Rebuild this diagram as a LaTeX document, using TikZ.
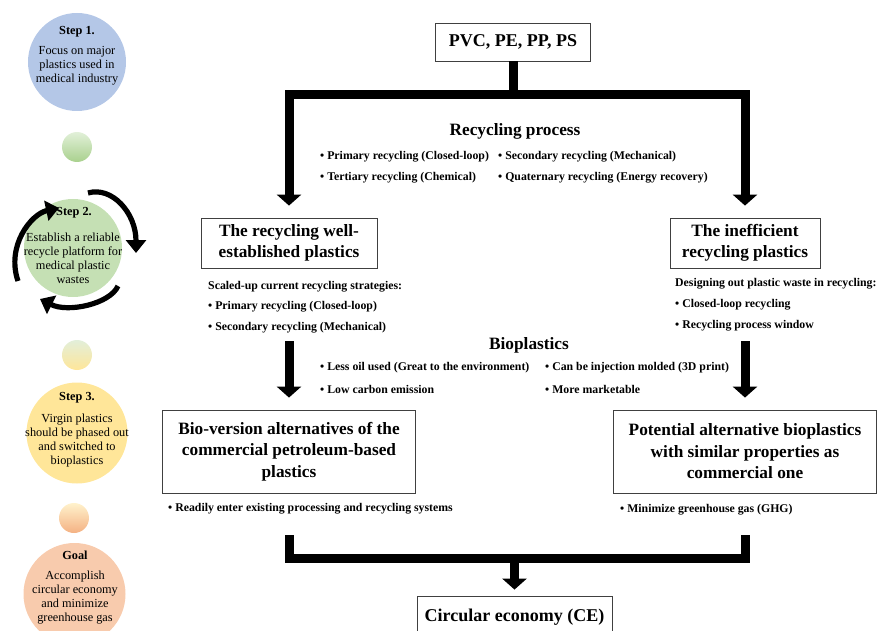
\documentclass[tikz,border=0pt]{standalone}
\usepackage{fontspec}
\setmainfont{Liberation Serif}
\usetikzlibrary{positioning,arrows.meta}
\definecolor{stepblue}{HTML}{B4C7E7}
\definecolor{stepgreen}{HTML}{C5E0B4}
\definecolor{stepyellow}{HTML}{FFE699}
\definecolor{steporange}{HTML}{F8CBAD}
\definecolor{beadgreentop}{HTML}{E2F0D9}
\definecolor{beadgreenbot}{HTML}{A9D18E}
\definecolor{beadyellowtop}{HTML}{E2EFDA}
\definecolor{beadyellowbot}{HTML}{FFE699}
\definecolor{beadorangetop}{HTML}{FFF2CC}
\definecolor{beadorangebot}{HTML}{F4B183}

\begin{document}
\begin{tikzpicture}[
    x=1pt, y=-1pt,
    font=\fontsize{12.3}{14}\selectfont,
    stepc/.style={circle, minimum size=98pt, inner sep=0pt},
    bead/.style={circle, minimum size=30pt, inner sep=0pt},
    steptitle/.style={font=\fontsize{12.3}{14}\selectfont\bfseries, inner sep=0pt},
    stepbody/.style={align=center, inner sep=0pt},
    box/.style={draw=black!75, line width=0.8pt, align=center, inner sep=0pt,
      font=\fontsize{17.3}{21.5}\selectfont\bfseries},
    heading/.style={font=\fontsize{17.3}{20}\selectfont\bfseries, inner sep=0pt},
    item/.style={anchor=west, inner sep=0pt, font=\fontsize{11.8}{14}\selectfont\bfseries},
    arr/.style={line width=9pt, -{Triangle[length=11pt, width=24pt]}},
    bus/.style={line width=9pt},
    cyc/.style={line width=5.2pt, -{Triangle[length=13pt, width=20pt]}},
  ]
  \useasboundingbox (0,0) rectangle (878,631);
  \clip (0,0) rectangle (878,631);

  % left column: steps
  \node[stepc, fill=stepblue] (s1) at (77,62) {};
  \node[steptitle] (s1t) at (77,32) {Step 1.};
  \node[stepbody] (s1b) at (77,66) {Focus on major\\plastics used in\\medical industry};
  \node[bead, top color=beadgreentop, bottom color=beadgreenbot] (b1) at (77,147) {};

  \node[stepc, fill=stepgreen] (s2) at (73,248) {};
  \node[steptitle] (s2t) at (74,213) {Step 2.};
  \node[stepbody] (s2b) at (73,258) {Establish a reliable\\recycle platform for\\medical plastic\\wastes};
  \draw[cyc] ([shift={(15,-55)}]s2.center) .. controls +(24,-7) and +(0,-40) .. ([shift={(63,5)}]s2.center);
  \draw[cyc] ([shift={(45,38)}]s2.center) .. controls +(-8,18) and +(28,14) .. ([shift={(-33,51)}]s2.center);
  \draw[cyc] ([shift={(-55,33)}]s2.center) .. controls +(-12,-35) and +(-28,6) .. ([shift={(-14,-40)}]s2.center);
  \node[bead, top color=beadyellowtop, bottom color=beadyellowbot] (b2) at (77,355) {};

  \node[stepc, fill=stepyellow, minimum size=101pt] (s3) at (77,433) {};
  \node[steptitle] (s3t) at (77,398) {Step 3.};
  \node[stepbody] (s3b) at (77,440.5) {Virgin plastics\\should be phased out\\and switched to\\bioplastics};
  \node[bead, top color=beadorangetop, bottom color=beadorangebot] (b3) at (74,518) {};

  \node[stepc, fill=steporange, minimum size=102pt] (goal) at (74.5,594) {};
  \node[steptitle] (goalt) at (75,555) {Goal};
  \node[stepbody] (goalb) at (75,598) {Accomplish\\circular economy\\and minimize\\greenhouse gas};

  % right: flow of plastics
  \node[box, minimum width=155pt, minimum height=38pt,
    font=\fontsize{18}{20}\selectfont\bfseries] (pvc) at (513,42) {PVC, PE, PP, PS};
  \node[box, minimum width=176pt, minimum height=50pt] (well) at (289,243) {The recycling well-\\established plastics};
  \node[box, minimum width=150pt, minimum height=50pt] (ineff) at (745,243) {The inefficient\\recycling plastics};
  \node[box, minimum width=253pt, minimum height=83pt] (biover) at (289,451.5)
    {Bio-version alternatives of the\\commercial petroleum-based\\plastics};
  \node[box, minimum width=263pt, minimum height=83pt] (potent) at (745,451.5)
    {Potential alternative bioplastics\\with similar properties as\\commercial one};
  \node[box, minimum width=195pt, minimum height=42pt,
    font=\fontsize{18}{20}\selectfont\bfseries] (ce) at (514.5,617) {Circular economy (CE)};

  \node[heading] (recyc) at (515,131) {Recycling process};
  \node[item] (rp1) at (320,157) {• Primary recycling (Closed-loop)};
  \node[item] (rp2) at ([xshift=178pt]rp1.west) {• Secondary recycling (Mechanical)};
  \node[item] (rp3) at ([yshift=-21pt]rp1.west) {• Tertiary recycling (Chemical)};
  \node[item] (rp4) at ([yshift=-21pt]rp2.west) {• Quaternary recycling (Energy recovery)};

  \node[item] (sl0) at (208,287) {Scaled-up current recycling strategies:};
  \node[item] (sl1) at ([yshift=-20pt]sl0.west) {• Primary recycling (Closed-loop)};
  \node[item] (sl2) at ([yshift=-21pt]sl1.west) {• Secondary recycling (Mechanical)};

  \node[item] (dl0) at (675,284) {Designing out plastic waste in recycling:};
  \node[item] (dl1) at ([yshift=-21pt]dl0.west) {• Closed-loop recycling};
  \node[item] (dl2) at ([yshift=-21pt]dl1.west) {• Recycling process window};

  \node[heading] (bio) at (529,345) {Bioplastics};
  \node[item] (bp1) at (320,368) {• Less oil used (Great to the environment)};
  \node[item] (bp2) at ([xshift=225pt]bp1.west) {• Can be injection molded (3D print)};
  \node[item] (bp3) at ([yshift=-21pt]bp1.west) {• Low carbon emission};
  \node[item] (bp4) at ([yshift=-21pt]bp2.west) {• More marketable};

  \node[item] (bv1) at (168,509) {• Readily enter existing processing and recycling systems};
  \node[item] (pt1) at (620,510) {• Minimize greenhouse gas (GHG)};

  % connectors
  \coordinate (fork) at ([yshift=-33pt]pvc.south);
  \draw[bus] (pvc.south) -- (fork);
  \draw[arr] (fork) -| ([yshift=12pt]well.north);
  \draw[arr] (fork) -| ([yshift=12pt]ineff.north);
  \draw[arr] ([yshift=-73pt]well.south) -- ([yshift=12pt]biover.north);
  \draw[arr] ([yshift=-73pt]ineff.south) -- ([yshift=12pt]potent.north);
  \coordinate (merge) at ([yshift=37pt]ce.north);
  \draw[bus] ([yshift=-42pt]biover.south) |- (merge) -| ([yshift=-42pt]potent.south);
  \draw[arr] (merge) -- ([yshift=6pt]ce.north);
\end{tikzpicture}
\end{document}
